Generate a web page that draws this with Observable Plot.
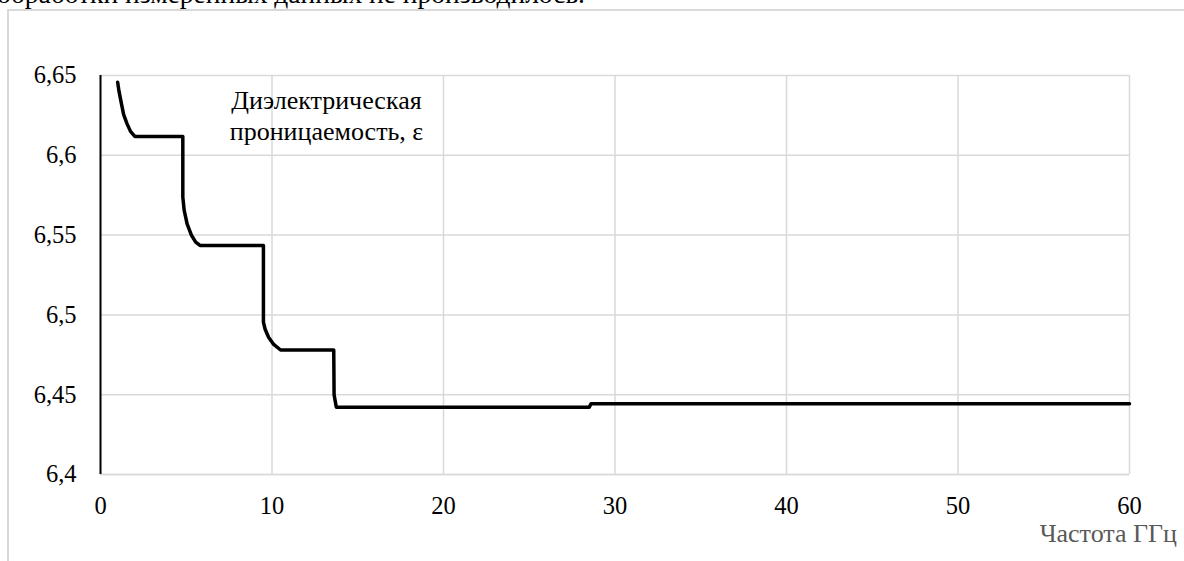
<!DOCTYPE html>
<html>
<head>
<meta charset="utf-8">
<script src="https://cdn.jsdelivr.net/npm/d3@7"></script>
<script src="https://cdn.jsdelivr.net/npm/@observablehq/plot@0.6"></script>
<style>
  html, body { margin: 0; padding: 0; background: #fff; }
  #wrap { position: relative; width: 1184px; height: 561px; overflow: hidden; font-family: "Liberation Serif", "Times New Roman", serif; }
  #toptext { position: absolute; left: -3px; top: -21px; font-size: 27.5px; line-height: 30px; color: #000; white-space: nowrap; }
  #frame { position: absolute; left: 7px; top: 9px; width: 1300px; height: 700px; border: 2px solid #d9d9d9; box-sizing: border-box; }
  #chart { position: absolute; left: 0; top: 0; }
  #chart svg, #chart svg text { font-family: "Liberation Serif", "Times New Roman", serif !important; }
  #xlabel { position: absolute; right: 7px; top: 519px; font-size: 26px; color: #595959; white-space: nowrap; }
</style>
</head>
<body>
<div id="wrap">
  <div id="toptext">обработки измеренных данных не производилось.</div>
  <div id="frame"></div>
  <div id="chart"></div>
  <div id="xlabel">Частота ГГц</div>
</div>
<script>
// Frequency, GHz
const freq = [1.0, 1.08, 1.2, 1.35, 1.55, 1.75, 2.0, 4.8, 4.8, 4.88, 5.05, 5.3, 5.55, 5.8, 9.5, 9.5, 9.6, 9.8, 10.1, 10.5, 13.6, 13.62, 13.75, 28.5, 28.6, 60];
// Dielectric permittivity, ε
const eps = [6.6458, 6.640, 6.6335, 6.6255, 6.6197, 6.6150, 6.6118, 6.6118, 6.5738, 6.5655, 6.5570, 6.5500, 6.5456, 6.5435, 6.5435, 6.4954, 6.4910, 6.4860, 6.4815, 6.4780, 6.4780, 6.4500, 6.4422, 6.4422, 6.4443, 6.4443];
const xTicks = [0, 10, 20, 30, 40, 50, 60];
const yTicks = [6.4, 6.45, 6.5, 6.55, 6.6, 6.65];
const annotation = ["Диэлектрическая", "проницаемость, ε"];

const data = freq.map((f, i) => ({f, e: eps[i]}));
const fmtY = d => String(+d.toFixed(2)).replace(".", ",");
const serif = "Liberation Serif, Times New Roman, serif";

const chart = Plot.plot({
  width: 1184,
  height: 561,
  marginLeft: 100,
  marginRight: 55,
  marginTop: 75,
  marginBottom: 87,
  style: {fontFamily: serif, background: "transparent", color: "#000"},
  x: {domain: [0, 60]},
  y: {domain: [6.4, 6.65]},
  marks: [
    Plot.gridX(xTicks, {stroke: "#d9d9d9", strokeOpacity: 1, strokeWidth: 1.5}),
    Plot.gridY(yTicks, {stroke: "#d9d9d9", strokeOpacity: 1, strokeWidth: 1.5}),
    Plot.ruleY([6.4], {stroke: "#d9d9d9", strokeWidth: 1.5}),
    Plot.ruleX([0], {stroke: "#000", strokeWidth: 2}),
    Plot.axisX(xTicks, {tickSize: 0, tickPadding: 22, fontSize: 24.5, label: null, fill: "#000", fontFamily: serif}),
    Plot.axisY(yTicks, {tickSize: 0, tickPadding: 24, fontSize: 24.5, label: null, tickFormat: fmtY, fill: "#000", fontFamily: serif}),
    Plot.line(data, {x: "f", y: "e", stroke: "#000", strokeWidth: 3.5, strokeLinejoin: "round", strokeLinecap: "round"}),
    Plot.text([annotation.join("\n")], {frameAnchor: "top-left", dx: 226, dy: 11, text: d => d, fontSize: 26, lineHeight: 1.2, textAnchor: "middle", lineAnchor: "top", fill: "#000", fontFamily: serif})
  ]
});
d3.select(chart).selectAll("text").style("font-family", "'Liberation Serif', 'Times New Roman', serif");
document.getElementById("chart").appendChild(chart);
</script>
</body>
</html>
